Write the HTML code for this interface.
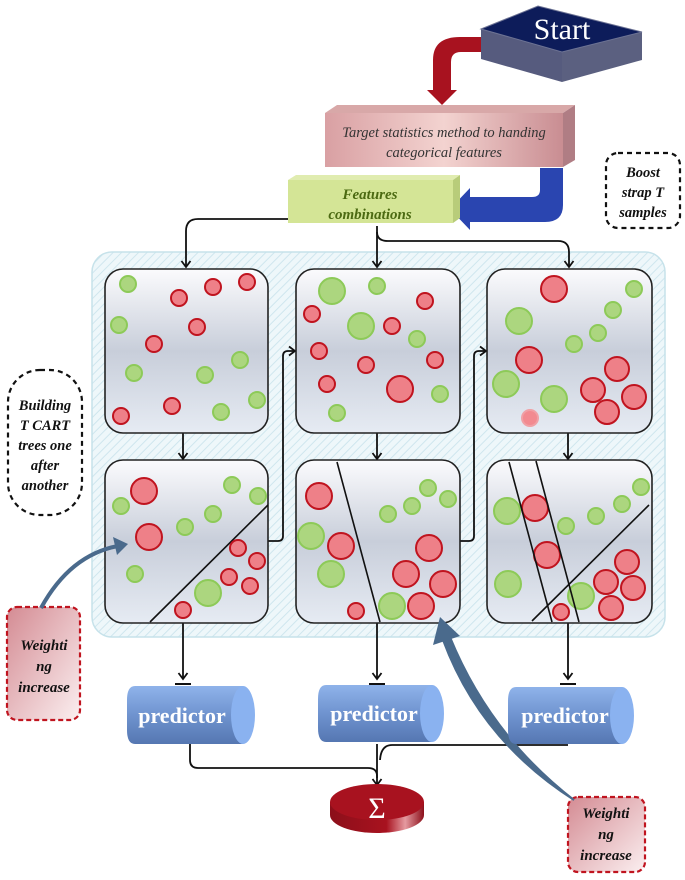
<!DOCTYPE html>
<html><head><meta charset="utf-8"><style>html,body{margin:0;padding:0;background:#fff}svg{display:block}</style></head>
<body>
<svg width="685" height="880" viewBox="0 0 685 880" xmlns="http://www.w3.org/2000/svg" font-family="Liberation Serif, serif">
<defs>
<pattern id="hatch" width="6" height="6" patternUnits="userSpaceOnUse" patternTransform="rotate(45)">
<rect width="6" height="6" fill="#eef7fa"/><line x1="0" y1="0" x2="0" y2="6" stroke="#cfe6ee" stroke-width="2"/></pattern>
<linearGradient id="panel" x1="0" y1="0" x2="0" y2="1"><stop offset="0" stop-color="#fbfbfd"/><stop offset="0.5" stop-color="#c8ceda"/><stop offset="1" stop-color="#e6ebf3"/></linearGradient>
<linearGradient id="pink" x1="0" y1="0" x2="1" y2="0"><stop offset="0" stop-color="#d9a0a3"/><stop offset="0.5" stop-color="#f3d3d0"/><stop offset="1" stop-color="#c98d92"/></linearGradient>
<linearGradient id="cyl" x1="0" y1="0" x2="0" y2="1"><stop offset="0" stop-color="#8fb3ea"/><stop offset="0.5" stop-color="#6f93cf"/><stop offset="1" stop-color="#5577b2"/></linearGradient>
<linearGradient id="wbox" x1="0" y1="0" x2="1" y2="1"><stop offset="0" stop-color="#d48b93"/><stop offset="1" stop-color="#fbeff0"/></linearGradient>
<linearGradient id="sig" x1="0" y1="0" x2="1" y2="0"><stop offset="0" stop-color="#8c0f1a"/><stop offset="0.6" stop-color="#a8121f"/><stop offset="0.8" stop-color="#e59aa0"/><stop offset="1" stop-color="#8c0f1a"/></linearGradient>
<marker id="arh" markerWidth="12" markerHeight="12" refX="9" refY="6" orient="auto" markerUnits="userSpaceOnUse">
<path d="M3,1.5 L9,6 L3,10.5" fill="none" stroke="#111" stroke-width="1.8"/></marker>
</defs>

<rect x="92" y="252" width="573" height="385" rx="20" fill="url(#hatch)" stroke="#c6e2ea" stroke-width="1.5"/>

<g fill="none" stroke="#111" stroke-width="1.8">
<path d="M292,219 H198 Q186,219 186,231 V267" marker-end="url(#arh)"/>
<path d="M377,226 V267" marker-end="url(#arh)"/>
<path d="M377,232 Q377,241 388,241 H558 Q569,241 569,252 V267" marker-end="url(#arh)"/>
<path d="M183,433 V459" marker-end="url(#arh)"/>
<path d="M377,433 V459" marker-end="url(#arh)"/>
<path d="M568,433 V459" marker-end="url(#arh)"/>
<path d="M268,541 H278 Q283,541 283,536 V356 Q283,351 288,351 H295" marker-end="url(#arh)"/>
<path d="M460,541 H469 Q474,541 474,536 V356 Q474,351 479,351 H486" marker-end="url(#arh)"/>
<path d="M183,623 V679" marker-end="url(#arh)"/>
<path d="M377,623 V679" marker-end="url(#arh)"/>
<path d="M568,623 V679" marker-end="url(#arh)"/>
<path d="M190,744 V760 Q190,768 198,768 H368 Q377,768 377,776 V785" marker-end="url(#arh)"/>
<path d="M377,744 V778"/>
<path d="M568,745 H392 Q381,745 380,760"/>
</g>
<g stroke="#111" stroke-width="2"><line x1="175" y1="684" x2="191" y2="684"/><line x1="369" y1="684" x2="385" y2="684"/><line x1="560" y1="684" x2="576" y2="684"/></g>

<g fill="url(#panel)" stroke="#222" stroke-width="1.6">
<rect x="105" y="269" width="163" height="164" rx="18"/>
<rect x="296" y="269" width="164" height="164" rx="18"/>
<rect x="487" y="269" width="165" height="164" rx="18"/>
<rect x="105" y="460" width="163" height="163" rx="18"/>
<rect x="296" y="460" width="164" height="163" rx="18"/>
<rect x="487" y="460" width="165" height="163" rx="18"/>
</g>

<g stroke-width="2">
<g fill="#acd67f" stroke="#8dca58">
<circle cx="128" cy="284" r="8"/><circle cx="119" cy="325" r="8"/><circle cx="240" cy="360" r="8"/><circle cx="134" cy="373" r="8"/><circle cx="205" cy="375" r="8"/><circle cx="257" cy="400" r="8"/><circle cx="221" cy="412" r="8"/>
</g>
<g fill="#ee8088" stroke="#c0141f">
<circle cx="179" cy="298" r="8"/><circle cx="213" cy="287" r="8"/><circle cx="247" cy="282" r="8"/><circle cx="197" cy="327" r="8"/><circle cx="154" cy="344" r="8"/><circle cx="172" cy="406" r="8"/><circle cx="121" cy="416" r="8"/>
</g>
<g fill="#acd67f" stroke="#8dca58">
<circle cx="332" cy="291" r="13"/><circle cx="377" cy="286" r="8"/><circle cx="361" cy="326" r="13"/><circle cx="417" cy="339" r="8"/><circle cx="440" cy="394" r="8"/><circle cx="337" cy="413" r="8"/>
</g>
<g fill="#ee8088" stroke="#c0141f">
<circle cx="425" cy="301" r="8"/><circle cx="312" cy="314" r="8"/><circle cx="392" cy="326" r="8"/><circle cx="319" cy="351" r="8"/><circle cx="435" cy="360" r="8"/><circle cx="366" cy="365" r="8"/><circle cx="327" cy="384" r="8"/><circle cx="400" cy="389" r="13"/>
</g>
<g fill="#acd67f" stroke="#8dca58">
<circle cx="634" cy="289" r="8"/><circle cx="519" cy="321" r="13"/><circle cx="613" cy="310" r="8"/><circle cx="598" cy="333" r="8"/><circle cx="574" cy="344" r="8"/><circle cx="506" cy="384" r="13"/><circle cx="554" cy="399" r="13"/>
</g>
<g fill="#ee8088" stroke="#c0141f">
<circle cx="554" cy="289" r="13"/><circle cx="529" cy="360" r="13"/><circle cx="617" cy="369" r="12"/><circle cx="593" cy="390" r="12"/><circle cx="634" cy="397" r="12"/><circle cx="607" cy="412" r="12"/>
</g>
<circle cx="530" cy="418" r="8" fill="#f28a90" stroke="#f0a0a5"/>

<line x1="150" y1="622" x2="268" y2="505" stroke="#111" stroke-width="1.6"/>
<g fill="#acd67f" stroke="#8dca58">
<circle cx="121" cy="506" r="8"/><circle cx="232" cy="485" r="8"/><circle cx="258" cy="496" r="8"/><circle cx="213" cy="514" r="8"/><circle cx="185" cy="527" r="8"/><circle cx="208" cy="593" r="13"/><circle cx="135" cy="574" r="8"/>
</g>
<g fill="#ee8088" stroke="#c0141f">
<circle cx="144" cy="491" r="13"/><circle cx="149" cy="537" r="13"/><circle cx="238" cy="548" r="8"/><circle cx="257" cy="561" r="8"/><circle cx="229" cy="577" r="8"/><circle cx="250" cy="586" r="8"/><circle cx="183" cy="610" r="8"/>
</g>
<line x1="337" y1="462" x2="380" y2="622" stroke="#111" stroke-width="1.6"/>
<g fill="#acd67f" stroke="#8dca58">
<circle cx="311" cy="536" r="13"/><circle cx="331" cy="574" r="13"/><circle cx="428" cy="488" r="8"/><circle cx="448" cy="499" r="8"/><circle cx="412" cy="506" r="8"/><circle cx="388" cy="514" r="8"/><circle cx="392" cy="606" r="13"/>
</g>
<g fill="#ee8088" stroke="#c0141f">
<circle cx="319" cy="496" r="13"/><circle cx="341" cy="546" r="13"/><circle cx="429" cy="548" r="13"/><circle cx="406" cy="574" r="13"/><circle cx="443" cy="584" r="13"/><circle cx="421" cy="606" r="13"/><circle cx="356" cy="611" r="8"/>
</g>
<g fill="#acd67f" stroke="#8dca58">
<circle cx="507" cy="511" r="13"/><circle cx="566" cy="526" r="8"/><circle cx="596" cy="516" r="8"/><circle cx="622" cy="504" r="8"/><circle cx="641" cy="487" r="8"/><circle cx="508" cy="584" r="13"/><circle cx="581" cy="596" r="13"/>
</g>
<g fill="#ee8088" stroke="#c0141f">
<circle cx="535" cy="508" r="13"/><circle cx="547" cy="555" r="13"/><circle cx="627" cy="562" r="12"/><circle cx="606" cy="582" r="12"/><circle cx="633" cy="588" r="12"/><circle cx="611" cy="608" r="12"/><circle cx="561" cy="612" r="8"/>
</g>
<g stroke="#111" stroke-width="1.6">
<line x1="509" y1="462" x2="552" y2="622"/><line x1="536" y1="461" x2="579" y2="622"/><line x1="532" y1="621" x2="649" y2="505"/>
</g>
</g>

<polygon points="481,29 481,59 562,82 562,52" fill="#565b7e"/>
<polygon points="562,52 562,82 642,60 642,32" fill="#5b6080"/>
<polygon points="481,29 538,6 642,32 562,52" fill="#0d1c5a" stroke="#6d7394" stroke-width="1"/>
<text x="562" y="39" font-size="30" fill="#fff" text-anchor="middle">Start</text>

<path d="M481,37 H460 Q433,37 433,60 V90 H427 L442,105 L457,90 H451 V62 Q451,52 461,52 H481 Z" fill="#a8121f"/>

<polygon points="325,113 337,105 575,105 563,113" fill="#d8a8a8"/>
<polygon points="563,113 575,105 575,160 563,167" fill="#b07d84"/>
<rect x="325" y="113" width="238" height="54" fill="url(#pink)"/>
<text x="444" y="137" font-size="14.5" font-style="italic" fill="#333" text-anchor="middle">Target statistics method to handing</text>
<text x="444" y="157" font-size="14.5" font-style="italic" fill="#333" text-anchor="middle">categorical features</text>

<path d="M540,168 H563 V205 Q563,222 545,222 H470 V230 L450,209 L470,188 V197 H532 Q540,197 540,190 Z" fill="#2a45b0"/>

<polygon points="288,180 296,175 460,175 453,180" fill="#e0ecb0"/>
<polygon points="453,180 460,175 460,218 453,223" fill="#b8cc7a"/>
<rect x="288" y="180" width="165" height="43" fill="#d4e596"/>
<text x="370" y="199" font-size="15" font-style="italic" font-weight="bold" fill="#4c6a12" text-anchor="middle">Features</text>
<text x="370" y="219" font-size="15" font-style="italic" font-weight="bold" fill="#4c6a12" text-anchor="middle">combinations</text>

<rect x="606" y="153" width="74" height="75" rx="12" fill="#fff" stroke="#111" stroke-width="2.2" stroke-dasharray="5,4"/>
<g font-size="14.5" font-style="italic" font-weight="bold" fill="#111" text-anchor="middle">
<text x="643" y="177">Boost</text><text x="643" y="197">strap T</text><text x="643" y="217">samples</text></g>
<rect x="8" y="370" width="74" height="145" rx="32" fill="#fff" stroke="#111" stroke-width="2.2" stroke-dasharray="5,4"/>
<g font-size="14.5" font-style="italic" font-weight="bold" fill="#111" text-anchor="middle">
<text x="45" y="410">Building</text><text x="45" y="430">T CART</text><text x="45" y="450">trees one</text><text x="45" y="470">after</text><text x="45" y="490">another</text></g>

<rect x="7" y="607" width="73" height="113" rx="10" fill="url(#wbox)" stroke="#c0141f" stroke-width="2.2" stroke-dasharray="5,3"/>
<g font-size="15" font-style="italic" font-weight="bold" fill="#111" text-anchor="middle">
<text x="44" y="650">Weighti</text><text x="44" y="671">ng</text><text x="44" y="692">increase</text></g>
<rect x="568" y="797" width="77" height="75" rx="10" fill="url(#wbox)" stroke="#c0141f" stroke-width="2.2" stroke-dasharray="5,3"/>
<g font-size="15" font-style="italic" font-weight="bold" fill="#111" text-anchor="middle">
<text x="606" y="818">Weighti</text><text x="606" y="839">ng</text><text x="606" y="860">increase</text></g>

<path d="M41,608 Q70,555 118,546" fill="none" stroke="#4a6a8c" stroke-width="4"/>
<polygon points="128,544 113,537 117,555" fill="#4a6a8c"/>
<path d="M574,800 Q480,740 443,640 L450,637 Q490,735 574,800 Z" fill="#4a6a8c" stroke="#4a6a8c" stroke-width="2"/>
<polygon points="440,617 433,645 460,636" fill="#4a6a8c"/>

<g>
<path d="M135,686 H243 V744 H135 Q127,744 127,730 V700 Q127,686 135,686 Z" fill="url(#cyl)"/>
<ellipse cx="243" cy="715" rx="12" ry="29" fill="#8ab2f0"/>
<text x="182" y="723" font-size="22" font-weight="bold" fill="#fff" text-anchor="middle">predictor</text>
<path d="M326,685 H432 V742 H326 Q318,742 318,728 V699 Q318,685 326,685 Z" fill="url(#cyl)"/>
<ellipse cx="432" cy="713.5" rx="12" ry="28.5" fill="#8ab2f0"/>
<text x="374" y="721" font-size="22" font-weight="bold" fill="#fff" text-anchor="middle">predictor</text>
<path d="M516,687 H622 V744 H516 Q508,744 508,730 V701 Q508,687 516,687 Z" fill="url(#cyl)"/>
<ellipse cx="622" cy="715.5" rx="12" ry="28.5" fill="#8ab2f0"/>
<text x="565" y="723" font-size="22" font-weight="bold" fill="#fff" text-anchor="middle">predictor</text>
</g>

<path d="M330,802 V815 A47,18 0 0 0 424,815 V802 Z" fill="url(#sig)"/>
<ellipse cx="377" cy="802" rx="47" ry="18" fill="#a8121f"/>
<text x="377" y="818" font-size="30" fill="#fff" text-anchor="middle">Σ</text>
</svg>
</body></html>
